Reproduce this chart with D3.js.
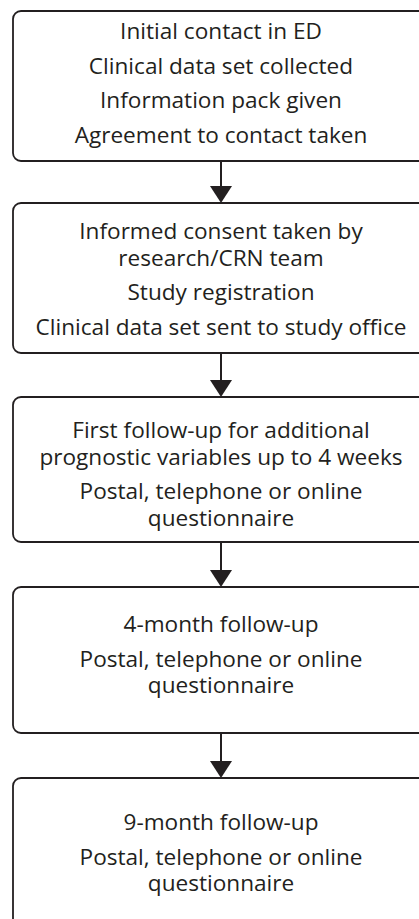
<!DOCTYPE html>
<html>
<head>
<meta charset="utf-8">
<script src="https://cdn.jsdelivr.net/npm/d3@7"></script>
<style>
  body { margin: 0; background: #fff; }
</style>
</head>
<body>
<div id="chart"></div>
<script>
// Text of each step, split into paragraphs and wrapped lines
const step1 = [["Initial contact in ED"], ["Clinical data set collected"], ["Information pack given"], ["Agreement to contact taken"]];
const step2 = [["Informed consent taken by", "research/CRN team"], ["Study registration"], ["Clinical data set sent to study office"]];
const step3 = [["First follow-up for additional", "prognostic variables up to 4 weeks"], ["Postal, telephone or online", "questionnaire"]];
const step4 = [["4-month follow-up"], ["Postal, telephone or online", "questionnaire"]];
const step5 = [["9-month follow-up"], ["Postal, telephone or online", "questionnaire"]];
const steps = [step1, step2, step3, step4, step5];

// Layout (pixels)
const width = 419, height = 919;
const boxLeft = 13, boxRight = 429, centerX = 221;
const boxTop = [11, 203, 397, 587, 778];
const boxBottom = [161, 353, 542, 733, 960];
const firstBaseline = [39, 239, 438, 632, 830];
const lineGap = 26.5, paraGap = 34.5;
const ink = "#231f20";

const svg = d3.select("#chart")
    .append("svg")
    .attr("width", width)
    .attr("height", height);

steps.forEach(function(paras, i) {
    // box
    svg.append("rect")
        .attr("x", boxLeft)
        .attr("y", boxTop[i])
        .attr("width", boxRight - boxLeft)
        .attr("height", boxBottom[i] - boxTop[i])
        .attr("rx", 8)
        .attr("fill", "none")
        .attr("stroke", ink)
        .attr("stroke-width", 1.8);

    // text lines
    let y = firstBaseline[i];
    paras.forEach(function(lines, p) {
        if (p > 0) y += paraGap;
        lines.forEach(function(line, l) {
            if (l > 0) y += lineGap;
            svg.append("text")
                .attr("x", centerX)
                .attr("y", y)
                .attr("text-anchor", "middle")
                .style("font-family", "'Open Sans', sans-serif")
                .style("font-size", "22.6px")
                .attr("fill", ink)
                .text(line);
        });
    });

    // arrow to next box
    if (i < steps.length - 1) {
        const y0 = boxBottom[i], y1 = boxTop[i + 1];
        svg.append("line")
            .attr("x1", centerX).attr("x2", centerX)
            .attr("y1", y0).attr("y2", y1 - 14)
            .attr("stroke", ink)
            .attr("stroke-width", 2);
        svg.append("path")
            .attr("d", d3.line()([[centerX - 11, y1 - 17], [centerX + 11, y1 - 17], [centerX, y1]]) + "Z")
            .attr("fill", ink);
    }
});
</script>
</body>
</html>
